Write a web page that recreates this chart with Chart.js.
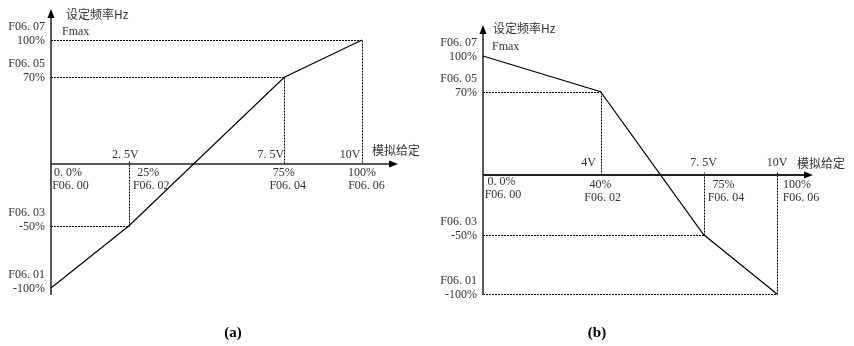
<!DOCTYPE html>
<html>
<head>
<meta charset="utf-8">
<script src="https://cdn.jsdelivr.net/npm/chart.js@4/dist/chart.umd.min.js"></script>
<style>
  body { margin: 0; background: #fff; }
  #wrap { position: relative; width: 854px; height: 346px; }
  canvas { position: absolute; top: 0; }
</style>
</head>
<body>
<div id="wrap">
  <canvas id="chart_a" width="427" height="346" style="left:0"></canvas>
  <canvas id="chart_b" width="427" height="346" style="left:427px"></canvas>
</div>
<script>
// panel (a): rising curve
var xA = [0, 25, 75, 100];
var yA = [-100, -50, 70, 100];
var voltA = ['', '2. 5V', '7. 5V', '10V'];
var pctA = ['0. 0%', '25%', '75%', '100%'];
var xParA = ['F06. 00', 'F06. 02', 'F06. 04', 'F06. 06'];
var yPctA = ['-100%', '-50%', '70%', '100%'];
var yParA = ['F06. 01', 'F06. 03', 'F06. 05', 'F06. 07'];

// panel (b): falling curve
var xB = [0, 40, 75, 100];
var yB = [100, 70, -50, -100];
var voltB = ['', '4V', '7. 5V', '10V'];
var pctB = ['0. 0%', '40%', '75%', '100%'];
var xParB = ['F06. 00', 'F06. 02', 'F06. 04', 'F06. 06'];
var yPctB = ['100%', '70%', '-50%', '-100%'];
var yParB = ['F06. 07', 'F06. 05', 'F06. 03', 'F06. 01'];

var yTitle = '设定频率Hz';
var xTitle = '模拟给定';
var fmaxLabel = 'Fmax';

var latinFont = '12px "Liberation Serif", "DejaVu Serif", serif';
var cjkFont = '12px "Noto Sans CJK SC", sans-serif';
var textColor = '#333';

function drawArrow(ctx, x, y, dir) {
	ctx.beginPath();
	if (dir == 'up') {
		ctx.moveTo(x, y);
		ctx.lineTo(x - 3.5, y + 9);
		ctx.lineTo(x + 3.5, y + 9);
	} else {
		ctx.moveTo(x, y);
		ctx.lineTo(x - 9, y - 3.5);
		ctx.lineTo(x - 9, y + 3.5);
	}
	ctx.closePath();
	ctx.fill();
}

// draws axes, dashed guides and all labels from the data arrays
var diagramPlugin = {
	id: 'diagram',
	beforeDatasetsDraw: function(chart) {
		var o = chart.options.plugins.diagram;
		var ctx = chart.ctx;
		var xs = chart.scales.x, ys = chart.scales.y;
		var x0 = xs.getPixelForValue(0), y0 = ys.getPixelForValue(0);
		var xEnd = xs.getPixelForValue(100) + 36;
		ctx.save();
		// dashed guides
		ctx.strokeStyle = '#000';
		ctx.lineWidth = 1;
		ctx.setLineDash([2, 1]);
		for (var i = 0; i < o.xv.length; i++) {
			if (o.xv[i] == 0) continue;
			var px = Math.round(xs.getPixelForValue(o.xv[i])) + 0.5;
			var py = Math.round(ys.getPixelForValue(o.yv[i])) + 0.5;
			ctx.beginPath();
			ctx.moveTo(x0, py);
			ctx.lineTo(px, py);
			ctx.stroke();
			ctx.beginPath();
			ctx.moveTo(px, py);
			ctx.lineTo(px, y0 + (py < y0 ? 0 : -3));
			ctx.stroke();
		}
		ctx.setLineDash([]);
		// axes
		ctx.strokeStyle = o.axisColor;
		ctx.fillStyle = '#000';
		ctx.lineWidth = 1.5;
		ctx.beginPath();
		ctx.moveTo(x0, ys.getPixelForValue(-100) + o.yAxisBelow);
		ctx.lineTo(x0, ys.getPixelForValue(100) - 28);
		ctx.stroke();
		drawArrow(ctx, x0, ys.getPixelForValue(100) - 31, 'up');
		ctx.lineWidth = o.xAxisWidth;
		ctx.beginPath();
		ctx.moveTo(x0, y0);
		ctx.lineTo(xEnd - 4, y0);
		ctx.stroke();
		drawArrow(ctx, xEnd, y0, 'right');
		ctx.restore();
	},
	afterDraw: function(chart) {
		var o = chart.options.plugins.diagram;
		var ctx = chart.ctx;
		var xs = chart.scales.x, ys = chart.scales.y;
		var x0 = xs.getPixelForValue(0), y0 = ys.getPixelForValue(0);
		var x100 = xs.getPixelForValue(100), y100 = ys.getPixelForValue(100);
		ctx.save();
		ctx.fillStyle = textColor;
		ctx.textBaseline = 'middle';
		ctx.font = latinFont;
		// x labels
		ctx.textAlign = 'center';
		for (var i = 0; i < o.xv.length; i++) {
			var px = xs.getPixelForValue(o.xv[i]);
			var d = o.xOff[i];
			if (o.volt[i]) ctx.fillText(o.volt[i], px + d[0], y0 - o.rows[0]);
			ctx.fillText(o.pct[i], px + d[1], y0 + o.rows[1] + (i == 0 ? o.firstRowShift : 0));
			ctx.fillText(o.xPar[i], px + d[2], y0 + o.rows[2] + (i == 0 ? o.firstRowShift : 0));
		}
		// y labels
		ctx.textAlign = 'right';
		for (var j = 0; j < o.yLabelVals.length; j++) {
			var py = ys.getPixelForValue(o.yLabelVals[j]);
			ctx.fillText(o.yPct[j], x0 - 6, py + 1);
			ctx.fillText(o.yPar[j], x0 - 6, py - 13);
		}
		ctx.textAlign = 'left';
		ctx.fillText(fmaxLabel, x0 + o.fmax[0], y100 + o.fmax[1]);
		ctx.font = cjkFont;
		ctx.fillText(yTitle, x0 + o.yTitle[0], y100 + o.yTitle[1]);
		ctx.fillText(xTitle, x100 + o.xTitle[0], y0 + o.xTitle[1]);
		// caption
		ctx.fillStyle = '#000';
		ctx.textAlign = 'center';
		ctx.font = 'bold 15px "Liberation Serif", serif';
		ctx.fillText(o.caption[0], o.caption[1], 333);
		ctx.restore();
	}
};

function makeChart(id, xv, yv, padding, opts) {
	var ctx = document.getElementById(id).getContext('2d');
	opts.xv = xv;
	opts.yv = yv;
	return new Chart(ctx, {
		type: 'line',
		plugins: [diagramPlugin],
		data: {
			datasets: [{
				data: xv.map(function(x, i) { return {x: x, y: yv[i]}; }),
				borderColor: '#000',
				borderWidth: 1.2,
				pointRadius: 0,
				tension: 0,
				fill: false,
				clip: false
			}]
		},
		options: {
			responsive: false,
			animation: false,
			layout: { padding: padding },
			scales: {
				x: { type: 'linear', min: 0, max: 100, display: false },
				y: { type: 'linear', min: -100, max: 100, display: false }
			},
			plugins: {
				legend: { display: false },
				tooltip: { enabled: false },
				diagram: opts
			}
		}
	});
}

makeChart('chart_a', xA, yA, {left: 51, right: 65, top: 40, bottom: 58}, {
	volt: voltA, pct: pctA, xPar: xParA, yPct: yPctA, yPar: yParA,
	yLabelVals: yA,
	xOff: [[0, 17, 19.5], [-3.5, 19.5, 22.5], [-13.5, -0.5, 3.5], [-12, 0, 4.5]],
	rows: [9, 9, 22], firstRowShift: 0,
	fmax: [11, -8], yTitle: [15, -26], xTitle: [10, -14],
	axisColor: '#222', xAxisWidth: 1.5, yAxisBelow: 7,
	caption: ['(a)', 233]
});

makeChart('chart_b', xB, yB, {left: 56, right: 77, top: 56, bottom: 52}, {
	volt: voltB, pct: pctB, xPar: xParB, yPct: yPctB, yPar: yParB,
	yLabelVals: yB,
	xOff: [[0, 18.5, 20], [-12, 0, 2], [0, 20, 22.5], [0, 20, 24]],
	rows: [12, 10, 23], firstRowShift: -3,
	fmax: [9, -9], yTitle: [10, -28], xTitle: [20, -12],
	axisColor: '#222', xAxisWidth: 2, yAxisBelow: 1,
	caption: ['(b)', 170]
});
</script>
</body>
</html>
